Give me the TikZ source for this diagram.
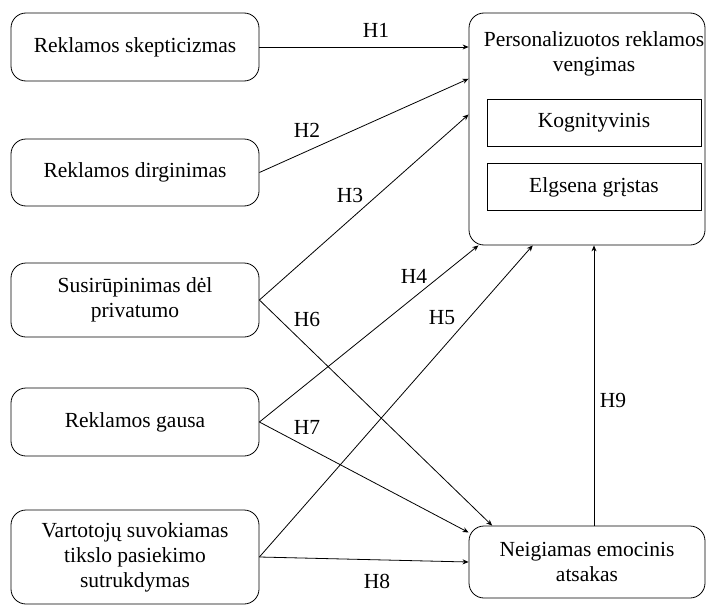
\documentclass[tikz,border=0pt]{standalone}
\usepackage{fontspec}
\setmainfont{Liberation Serif}
\usetikzlibrary{arrows.meta,positioning,calc}

\begin{document}
\begin{tikzpicture}[x=1pt, y=-1pt,
    factor/.style={draw, line width=0.8pt, rounded corners=15pt, minimum width=248pt,
      align=center, inner sep=0pt, font=\fontsize{21.5}{25}\selectfont},
    part/.style={draw, line width=0.8pt, minimum width=214pt, minimum height=47pt,
      inner sep=0pt, font=\fontsize{21.5}{25}\selectfont},
    hyp/.style={-{Stealth[length=6pt,width=5pt]}, line width=0.8pt},
    hlabel/.style={inner sep=0pt, font=\fontsize{21.5}{25}\selectfont}]
    \useasboundingbox (0,0) rectangle (707,605);
    % Antecedents
    \node[factor, minimum height=68pt] (skept) at (135,47) {Reklamos skepticizmas};
    \node[factor, minimum height=67pt] (irrit) at (135,172.5) {Reklamos dirginimas};
    \node[factor, minimum height=74pt] (priv) at (135,300) {Susirūpinimas dėl\\privatumo};
    \node[factor, minimum height=68pt] (clutter) at (135,422) {Reklamos gausa};
    \node[factor, minimum height=94pt] (goal) at (135,557) {Vartotojų suvokiamas\\tikslo pasiekimo\\sutrukdymas};
    % Avoidance with its two parts
    \node[factor, minimum width=236pt, minimum height=232pt] (avoid) at (587,129) {};
    \node[hlabel, align=center] (avoidtitle) at (594,54) {Personalizuotos reklamos\\vengimas};
    \node[part] (cogn) at (594,122.5) {Kognityvinis};
    \node[part] (behav) at (594,187) {Elgsena grįstas};
    % Mediator
    \node[factor, minimum width=236pt, minimum height=72pt] (neg) at (587,562) {Neigiamas emocinis\\atsakas};
    % Paths to avoidance
    \draw[hyp] (skept.east) -- (skept.east -| avoid.west);
    \draw[hyp] (irrit.east) -- (avoid.157.5);
    \draw[hyp] (priv.east) -- (avoid.173);
    \draw[hyp] (clutter.east) -- (avoid.227.6);
    \draw[hyp] (goal.east) -- (avoid.245);
    % Paths to negative emotion
    \draw[hyp] (priv.east) -- (neg.159.8);
    \draw[hyp] (clutter.east) -- (neg.166.4);
    \draw[hyp] (goal.east) -- (neg.west);
    \draw[hyp] ($(neg.north)+(7,0)$) -- ($(neg.north |- avoid.south)+(7,0)$);
    % Hypotheses
    \node[hlabel] (h1) at (376,30) {H1};
    \node[hlabel] (h2) at (307,130) {H2};
    \node[hlabel] (h3) at (350,195) {H3};
    \node[hlabel] (h4) at (414,276) {H4};
    \node[hlabel] (h5) at (442,318) {H5};
    \node[hlabel] (h6) at (307,319) {H6};
    \node[hlabel] (h7) at (307,427) {H7};
    \node[hlabel] (h8) at (377,581) {H8};
    \node[hlabel] (h9) at (613,400) {H9};
\end{tikzpicture}
\end{document}
